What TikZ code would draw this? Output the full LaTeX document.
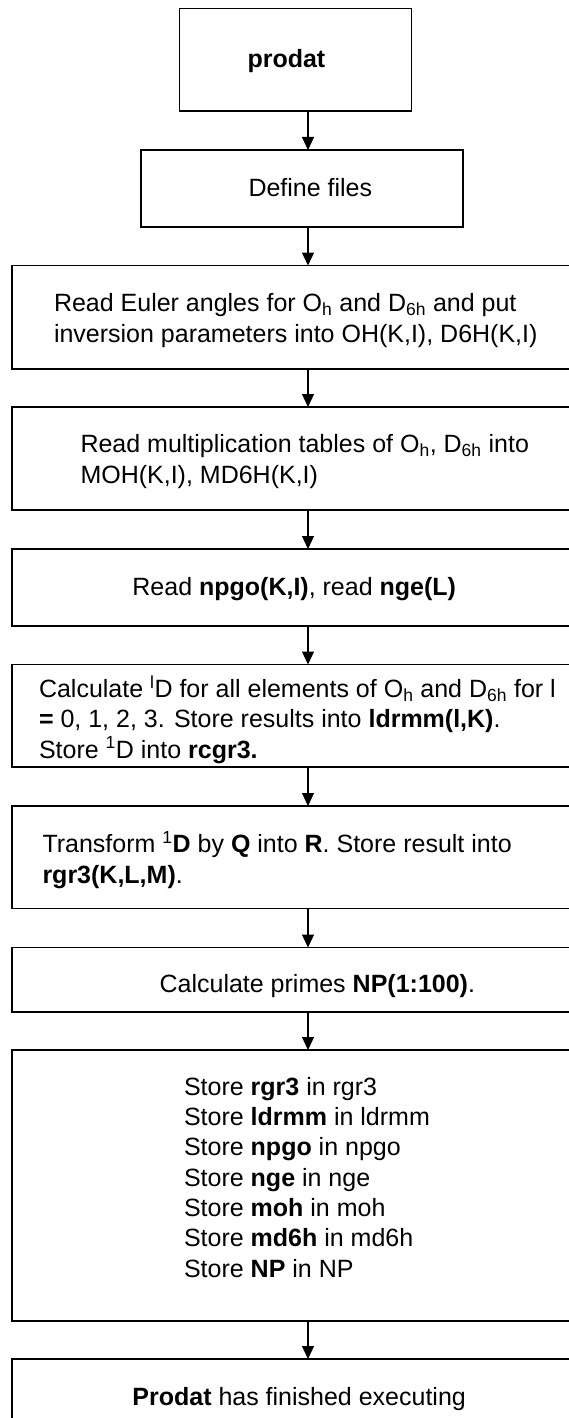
\documentclass[tikz,border=0pt]{standalone}
\usepackage{fontspec}
\setmainfont{Liberation Sans}
\usetikzlibrary{arrows.meta}
\tikzset{
  box/.style={draw=black, line width=1.2pt, rectangle, inner sep=0pt, outer sep=0pt, anchor=north west},
  txt/.style={anchor=base west, inner sep=0pt, outer sep=0pt, align=left, font={\fontsize{25}{30.3}\selectfont}},
  arr/.style={draw=black, line width=1.2pt, -{Triangle[length=13pt,width=12pt]}}
}
\begin{document}
\begin{tikzpicture}[x=1pt,y=-1pt]
\useasboundingbox (0,0) rectangle (569,1418);
\clip (0,0) rectangle (569,1418);
\fill[white] (0,0) rectangle (569,1418);
% boxes
\node[box, minimum width=231.5pt, minimum height=102.5pt] (b1) at (179.6,8.5) {};
\node[box, minimum width=322pt, minimum height=77pt] (b2) at (141,150) {};
\node[box, minimum width=592pt, minimum height=103.5pt] (b3) at (12,265.5) {};
\node[box, minimum width=592pt, minimum height=103pt] (b4) at (12,407) {};
\node[box, minimum width=592pt, minimum height=77pt] (b5) at (12,549) {};
\node[box, minimum width=592pt, minimum height=102.5pt] (b6) at (12,664.5) {};
\node[box, minimum width=592pt, minimum height=102.5pt] (b7) at (12,806) {};
\node[box, minimum width=592pt, minimum height=64.5pt] (b8) at (12,947.5) {};
\node[box, minimum width=592pt, minimum height=271pt] (b9) at (12,1050) {};
\node[box, minimum width=592pt, minimum height=110pt] (b10) at (12,1359) {};
% texts (multi-line texts: anchor is the baseline of the last line)
\node[txt] (t1) at (247.5,68) {\textbf{prodat}};
\node[txt] (t2) at (248.5,196) {Define files};
\node[txt] (t3) at (54,342) {Read Euler angles for O\textsubscript{h} and D\textsubscript{6h} and put\\inversion parameters into OH(K,I), D6H(K,I)};
\node[txt] (t4) at (80.5,483) {Read multiplication tables of O\textsubscript{h}, D\textsubscript{6h} into\\MOH(K,I), MD6H(K,I)};
\node[txt] (t5) at (132.4,595) {Read \textbf{npgo(K,I)}, read \textbf{nge(L)}};
\node[txt] (t6) at (39,758) {Calculate \textsuperscript{l}D for all elements of O\textsubscript{h} and D\textsubscript{6h} for l\\\textbf{=} 0, 1, 2, 3. Store results into \textbf{ldrmm(l,K)}.\\Store \textsuperscript{1}D into \textbf{rcgr3.}};
\node[txt] (t7) at (42.5,883) {Transform \textsuperscript{1}\textbf{D} by \textbf{Q} into \textbf{R}. Store result into\\\textbf{rgr3(K,L,M)}.};
\node[txt] (t8) at (159.6,992) {Calculate primes \textbf{NP(1:100)}.};
\node[txt] (t9) at (184,1277) {Store \textbf{rgr3} in rgr3\\Store \textbf{ldrmm} in ldrmm\\Store \textbf{npgo} in npgo\\Store \textbf{nge} in nge\\Store \textbf{moh} in moh\\Store \textbf{md6h} in md6h\\Store \textbf{NP} in NP};
\node[txt] (t10) at (132.4,1405) {\textbf{Prodat} has finished executing};
% arrows
\coordinate (ax) at (308,0);
\draw[arr] (b1.south -| ax) -- (b2.north -| ax);
\draw[arr] (b2.south -| ax) -- (b3.north -| ax);
\draw[arr] (b3.south -| ax) -- (b4.north -| ax);
\draw[arr] (b4.south -| ax) -- (b5.north -| ax);
\draw[arr] (b5.south -| ax) -- (b6.north -| ax);
\draw[arr] (b6.south -| ax) -- (b7.north -| ax);
\draw[arr] (b7.south -| ax) -- (b8.north -| ax);
\draw[arr] (b8.south -| ax) -- (b9.north -| ax);
\draw[arr] (b9.south -| ax) -- (b10.north -| ax);
\end{tikzpicture}
\end{document}
